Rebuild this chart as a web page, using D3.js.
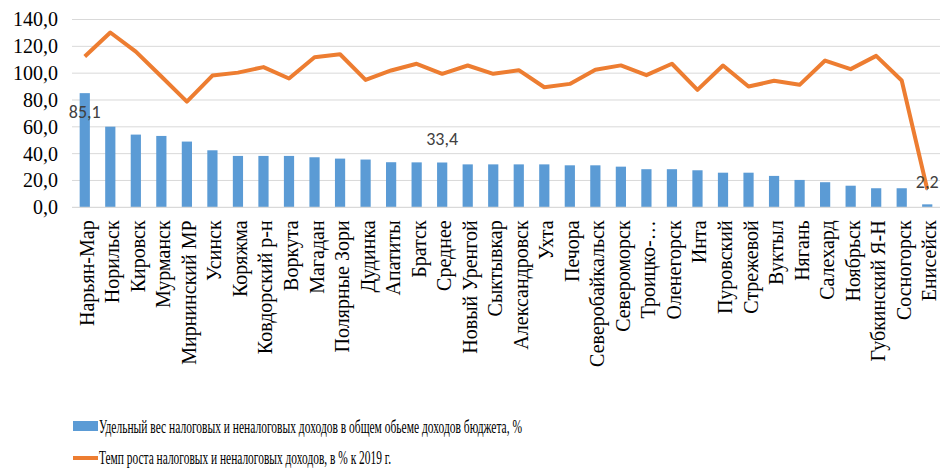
<!DOCTYPE html>
<html>
<head>
<meta charset="utf-8">
<script src="https://cdn.jsdelivr.net/npm/d3@7"></script>
<style>
  body { margin: 0; background: #fff; }
  svg { display: block; }
  .serif { font-family: "Liberation Serif", "Times New Roman", "DejaVu Serif", serif; }
</style>
</head>
<body>
<svg id="chart" width="941" height="468"></svg>
<script>
const cities = ['Нарьян-Мар', 'Норильск', 'Кировск', 'Мурманск', 'Мирнинский МР', 'Усинск', 'Коряжма',
    'Ковдорский р-н', 'Воркута', 'Магадан', 'Полярные Зори', 'Дудинка', 'Апатиты', 'Братск', 'Среднее',
    'Новый Уренгой', 'Сыктывкар', 'Александровск', 'Ухта', 'Печора', 'Северобайкальск', 'Североморск',
    'Троицко-…', 'Оленегорск', 'Инта', 'Пуровский', 'Стрежевой', 'Вуктыл', 'Нягань', 'Салехард',
    'Ноябрьск', 'Губкинский Я-Н', 'Сосногорск', 'Енисейск']

const share = [85.1, 60.1, 54.2, 53.2, 49.0, 42.5, 38.3, 38.3, 38.3, 37.3, 36.3, 35.6, 33.6, 33.5, 33.4,
    32.0, 32.0, 32.0, 32.0, 31.3, 31.3, 30.3, 28.4, 28.4, 27.6, 25.8, 25.8, 23.4, 20.4, 18.7,
    16.1, 14.2, 14.2, 2.2]

const growth = [112.4, 130.3, 116.1, 97.5, 78.8, 98.2, 100.4, 104.5, 96.0, 111.9, 114.1, 95.0, 102.0,
    107.0, 99.5, 105.7, 99.5, 102.2, 89.5, 92.0, 102.5, 105.8, 98.5, 107.0, 87.5, 105.7, 90.0, 94.3,
    91.3, 109.4, 103.0, 112.9, 94.5, 13.4]

const yTicks = [0, 20, 40, 60, 80, 100, 120, 140]

// which bars carry a value label, and how far below/above the bar top it sits
const labelled = [{ i: 0, dy: 25 }, { i: 14, dy: -17 }, { i: 33, dy: -16 }]

const legendNames = ['Удельный вес налоговых и неналоговых доходов в общем обьеме доходов бюджета, %',
    'Темп роста налоговых и неналоговых доходов, в % к 2019 г.']

const blue = '#5b9bd5', orange = '#ed7d31'
const comma = v => d3.format('.1f')(v).replace('.', ',')

let svg = d3.select('#chart')
let plotL = 72, plotR = 940, plotT = 19.5, plotB = 207.3

let x = d3.scalePoint().domain(cities).range([plotL, plotR]).padding(0.5)
let y = d3.scaleLinear().domain([0, 140]).range([plotB, plotT])
let barW = x.step() * 0.4

// grid
svg.append('g')
    .selectAll('line')
    .data(yTicks.slice(1))
    .enter()
    .append('line')
    .attr('x1', plotL).attr('x2', plotR)
    .attr('y1', d => y(d)).attr('y2', d => y(d))
    .style('stroke', '#d9d9d9')
    .style('stroke-width', 1)

// y axis labels
let yAxis = svg.append('g')
    .attr('transform', `translate(${plotL},0)`)
    .call(d3.axisLeft(y).tickValues(yTicks).tickFormat(comma).tickSize(0).tickPadding(14))
yAxis.attr('font-family', null).attr('font-size', null)
yAxis.select('.domain').remove()
yAxis.selectAll('text')
    .attr('class', 'serif')
    .style('font-size', '20px')
    .attr('fill', '#000')

// bars
svg.append('g')
    .selectAll('rect')
    .data(share)
    .enter()
    .append('rect')
    .attr('x', (d, i) => x(cities[i]) - barW / 2)
    .attr('width', barW)
    .attr('y', d => y(d))
    .attr('height', d => y(0) - y(d))
    .attr('fill', blue)

// baseline
svg.append('line')
    .attr('x1', plotL).attr('x2', plotR)
    .attr('y1', y(0)).attr('y2', y(0))
    .style('stroke', '#d9d9d9')
    .style('stroke-width', 1.2)

// line
let line = d3.line()
    .x((d, i) => x(cities[i]))
    .y(d => y(d))

svg.append('path')
    .datum(growth)
    .attr('d', line)
    .attr('fill', 'none')
    .attr('stroke', orange)
    .attr('stroke-width', 4)
    .attr('stroke-linejoin', 'round')

// value labels
svg.append('g')
    .selectAll('text')
    .data(labelled)
    .enter()
    .append('text')
    .attr('x', d => x(cities[d.i]))
    .attr('y', d => y(share[d.i]) + d.dy)
    .attr('text-anchor', 'middle')
    .style('font-family', 'Carlito, "Open Sans", "Liberation Sans", sans-serif')
    .style('font-size', '18px')
    .attr('fill', '#404040')
    .text(d => comma(share[d.i]))

// category labels
svg.append('g')
    .selectAll('text')
    .data(cities)
    .enter()
    .append('text')
    .attr('class', 'serif')
    .attr('transform', d => `translate(${x(d) + 2},${plotB + 13}) rotate(-90)`)
    .attr('dy', '0.35em')
    .attr('text-anchor', 'end')
    .style('font-size', '20px')
    .attr('fill', '#000')
    .text(d => d)

// legend
let legend = svg.append('g')
legend.append('rect')
    .attr('x', 73).attr('y', 421).attr('width', 25).attr('height', 10)
    .attr('fill', blue)
legend.append('line')
    .attr('x1', 73).attr('x2', 98).attr('y1', 458).attr('y2', 458)
    .attr('stroke', orange).attr('stroke-width', 4)
legend.selectAll('text')
    .data(legendNames)
    .enter()
    .append('text')
    .attr('class', 'serif')
    .attr('x', 99)
    .attr('y', (d, i) => 433 + i * 31)
    .attr('textLength', (d, i) => i === 0 ? 423 : 292)
    .attr('lengthAdjust', 'spacingAndGlyphs')
    .style('font-size', '19px')
    .attr('fill', '#000')
    .text(d => d)
</script>
</body>
</html>
